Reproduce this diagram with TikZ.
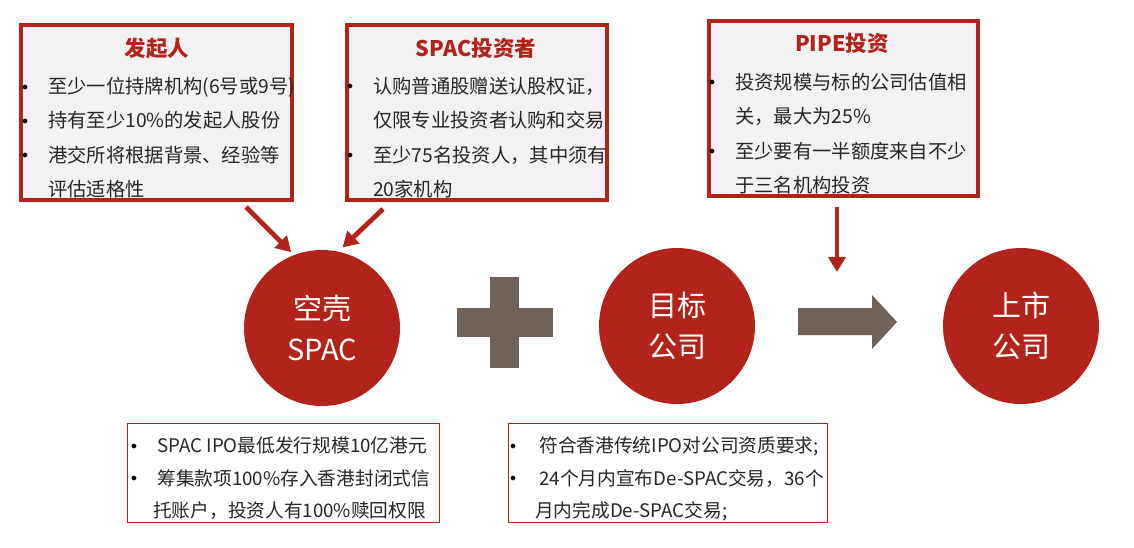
\documentclass[tikz,border=0pt]{standalone}
\usepackage{fontspec}
\setmainfont{Noto Sans CJK SC}
\usetikzlibrary{arrows.meta}
\definecolor{spacred}{RGB}{178,36,27}
\definecolor{panelgrey}{RGB}{242,242,242}
\definecolor{plusbrown}{RGB}{112,97,89}
\definecolor{bodygrey}{RGB}{38,38,38}
\newcommand{\itemdot}[1][20pt]{\llap{\raisebox{3.5pt}{\fontsize{13}{13}\selectfont\color{black}$\bullet$}\hspace{#1}}}
\tikzset{
  toppanel/.style={draw=spacred, line width=4pt, fill=panelgrey, inner sep=0pt, anchor=north west, minimum height=175pt},
  basepanel/.style={draw=spacred, line width=1.3pt, fill=white, inner sep=0pt, anchor=north west, minimum height=98.7pt},
  paneltitle/.style={text=spacred, font=\fontsize{21.5}{24}\selectfont\bfseries},
  paneltext/.style={text=bodygrey, align=left, anchor=north west, inner sep=0pt, font=\fontsize{19.3}{34.3}\selectfont},
  basetext/.style={paneltext, font=\fontsize{18.7}{32.5}\selectfont},
  stage/.style={circle, fill=spacred, text=white, minimum size=156pt, inner sep=0pt, align=center, font=\fontsize{29}{41}\selectfont},
  feed/.style={draw=spacred, line width=4.8pt, -{Triangle[length=15pt,width=17pt]}},
}
\begin{document}
\begin{tikzpicture}[x=1pt,y=-1pt]
        \useasboundingbox (0,0) rectangle (1134,547);
        % upper panels
        \node[toppanel, minimum width=271pt] (sponsor) at (19,23) {};
        \node[toppanel, minimum width=260pt] (investor) at (345,23) {};
        \node[toppanel, minimum width=269pt] (pipe) at (707,19) {};
        \node[paneltitle] (sponsorhead) at (157,48) {发起人};
        \node[paneltitle] (investorhead) at (476,48) {SPAC投资者};
        \node[paneltitle] (pipehead) at (842,43) {PIPE投资};
        \node[paneltext] (sponsortext) at (48,77) {\itemdot 至少一位持牌机构(6号或9号)\\ \itemdot 持有至少10\%的发起人股份\\ \itemdot 港交所将根据背景、经验等\\ 评估适格性};
        \node[paneltext] (investortext) at (373,77) {\itemdot 认购普通股赠送认股权证，\\ 仅限专业投资者认购和交易\\ \itemdot 至少75名投资人，其中须有\\ 20家机构};
        \node[paneltext] (pipetext) at (735,73) {\itemdot 投资规模与标的公司估值相\\ 关，最大为25\%\\ \itemdot 至少要有一半额度来自不少\\ 于三名机构投资};
        % middle row
        \node[stage] (spac) at (322,328) {空壳\\SPAC};
        \node[stage] (target) at (677,326) {目标\\公司};
        \node[stage] (listed) at (1021,326) {上市\\公司};
        \fill[plusbrown] (490,277) rectangle (519,368);
        \fill[plusbrown] (457,308) rectangle (553,337);
        \fill[plusbrown] (798,308) -- (872,308) -- (872,295) -- (897,322) -- (872,349) -- (872,335) -- (798,335) -- cycle;
        \coordinate (pipedrop) at (837,272);
        \draw[feed, shorten >=4pt] ([xshift=-48pt,yshift=-5pt]sponsor.south east) -- (spac.111);
        \draw[feed, shorten >=6pt] ([xshift=38pt,yshift=-7pt]investor.south west) -- (spac.78);
        \draw[feed] ([xshift=-6.5pt,yshift=-9pt]pipe.south) -- (pipedrop);
        % lower panels
        \node[basepanel, minimum width=311.7pt] (spacipo) at (127,423) {};
        \node[basepanel, minimum width=318.7pt] (targetreq) at (508,423) {};
        \node[basetext] (spacipotext) at (153,437) {\itemdot[16pt] SPAC IPO最低发行规模10亿港元\\ \itemdot[16pt] 筹集款项100\%存入香港封闭式信\\ 托账户，投资人有100\%赎回权限};
        \node[basetext] (targetreqtext) at (535,437) {\itemdot[19pt] 符合香港传统IPO对公司资质要求;\\ \itemdot[19pt] 24个月内宣布De-SPAC交易，36个\\ 月内完成De-SPAC交易;};
\end{tikzpicture}
\end{document}
